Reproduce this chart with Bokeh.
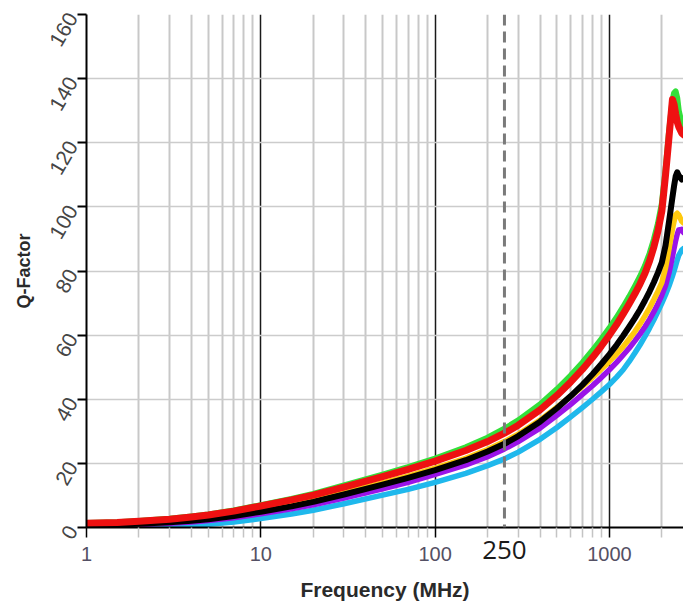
from math import pi
from bokeh.plotting import figure
from bokeh.models import Range1d, FixedTicker, Span, Grid, LogAxis
from bokeh.embed import file_html
from bokeh.resources import INLINE

# ---------------- data ----------------
freq = [1, 1.5, 2, 3, 4, 5, 7, 10, 15, 20, 30, 50, 70, 100, 150, 200, 250, 300,
        400, 500, 600, 700, 800, 900, 1000, 1100, 1200, 1300, 1400, 1500, 1600,
        1700, 1800, 1900, 2000, 2100, 2200, 2300, 2350, 2400, 2450, 2500, 2600, 2662]

q_green = [1.4, 1.65, 2.05, 2.75, 3.45, 4.1, 5.3, 6.95, 8.9, 10.5, 13.1, 16.5, 18.8, 21.5,
           25.0, 28.0, 30.8, 33.4, 38.4, 43.1, 47.4, 51.4, 55.2, 58.8, 62.2, 65.5,
           68.8, 72.0, 75.2, 78.3, 81.6, 85.4, 89.8, 94.8, 101.0, 111.5, 123.5,
           133.0, 135.5, 136.0, 134.0, 130.0, 126.0, 125.0]
q_red = [1.3, 1.55, 1.95, 2.6, 3.3, 3.9, 5.1, 6.7, 8.6, 10.1, 12.6, 15.9, 18.1, 20.7,
         24.0, 26.8, 29.4, 31.9, 36.7, 41.2, 45.4, 49.3, 53.0, 56.6, 60.0, 63.3,
         66.6, 69.8, 72.9, 76.0, 79.3, 83.1, 87.5, 92.5, 98.7, 110.0, 122.0,
         133.5, 132.0, 129.0, 126.5, 125.0, 123.0, 122.5]
q_black = [0.8, 0.95, 1.15, 1.6, 2.1, 2.6, 3.6, 4.9, 6.6, 8.0, 10.3, 13.4, 15.5, 17.9,
           21.0, 23.7, 26.1, 28.5, 33.0, 37.2, 41.0, 44.5, 47.8, 51.0, 54.0, 56.9,
           59.8, 62.6, 65.3, 68.0, 70.8, 73.6, 76.5, 79.5, 82.7, 88.0, 95.5, 103.0,
           106.5, 109.5, 110.8, 109.8, 108.5, 109.0]
q_yellow = [0.9, 1.05, 1.25, 1.75, 2.3, 2.85, 3.9, 5.3, 7.05, 8.45, 10.8, 13.9, 16.05, 18.5,
            21.6, 24.35, 26.8, 29.1, 33.5, 37.5, 41.0, 44.0, 46.8, 49.4, 51.8, 54.1,
            56.4, 58.8, 61.1, 63.5, 66.0, 68.5, 71.1, 73.7, 76.4, 81.0, 87.0, 93.0,
            95.5, 97.5, 98.0, 97.5, 95.5, 95.0]
q_purple = [0.6, 0.7, 0.9, 1.3, 1.75, 2.2, 3.05, 4.3, 5.85, 7.1, 9.2, 12.1, 14.1, 16.6,
            19.5, 22.1, 24.5, 26.8, 31.0, 35.0, 38.4, 41.5, 44.2, 46.8, 49.2, 51.5,
            53.8, 56.0, 58.2, 60.4, 62.6, 64.9, 67.3, 69.8, 72.5, 75.5, 79.5, 84.5,
            87.0, 89.5, 91.5, 92.8, 93.0, 92.0]
q_cyan = [0.2, 0.2, 0.3, 0.45, 0.7, 1.0, 1.7, 2.8, 4.2, 5.4, 7.4, 10.1, 11.9, 14.1,
          16.9, 19.3, 21.4, 23.5, 27.5, 31.2, 34.5, 37.4, 40.0, 42.4, 44.6, 46.9,
          49.2, 51.8, 54.4, 57.0, 59.6, 62.2, 64.8, 67.4, 70.0, 72.6, 75.4, 78.4,
          80.0, 81.7, 83.4, 84.9, 86.5, 87.0]

x_major_ticks = [1, 10, 100, 1000]
x_major_labels = ["1", "10", "100", "1000"]
x_minor_ticks = [2, 3, 4, 5, 6, 7, 8, 9, 20, 30, 40, 50, 60, 70, 80, 90,
                 200, 300, 400, 500, 600, 700, 800, 900, 2000]
y_ticks = [0, 20, 40, 60, 80, 100, 120, 140, 160]
marker_freq = 250
marker_label = "250"
x_title = "Frequency (MHz)"
y_title = "Q-Factor"

# ---------------- figure ----------------
p = figure(width=683, height=612, x_axis_type="log",
           x_range=Range1d(1, 2662), y_range=Range1d(0, 160),
           output_backend="svg", toolbar_location=None,
           min_border_left=86, min_border_right=0,
           min_border_top=14, min_border_bottom=85)
p.outline_line_color = None
p.background_fill_color = "white"
p.border_fill_color = "white"

# x axis
xa = p.xaxis[0]
xa.ticker = FixedTicker(ticks=x_major_ticks, minor_ticks=x_minor_ticks)
xa.major_label_overrides = dict(zip(x_major_ticks, x_major_labels))
xa.axis_line_color = "black"
xa.axis_line_width = 2
xa.major_tick_line_color = "black"
xa.major_tick_line_width = 1.5
xa.major_tick_out = 10
xa.major_tick_in = 0
xa.minor_tick_line_color = "#c4c4c4"
xa.minor_tick_line_width = 1.5
xa.minor_tick_out = 10
xa.minor_tick_in = 0
xa.major_label_text_font = "Liberation Sans"
xa.major_label_text_font_size = "20px"
xa.major_label_text_color = "#545064"
xa.major_label_standoff = 9
xa.axis_label = x_title
xa.axis_label_text_font = "Liberation Sans"
xa.axis_label_text_font_style = "bold"
xa.axis_label_text_font_size = "21px"
xa.axis_label_text_color = "#2a2a2a"
xa.axis_label_standoff = 14

# second bottom axis only carrying the "250" marker label
xa250 = LogAxis(ticker=FixedTicker(ticks=[marker_freq]),
                major_label_overrides={marker_freq: marker_label})
xa250.axis_line_color = None
xa250.major_tick_line_color = None
xa250.minor_tick_line_color = None
xa250.major_tick_out = 0
xa250.major_tick_in = 0
xa250.minor_tick_out = 0
xa250.minor_tick_in = 0
xa250.major_label_text_font = "Open Sans"
xa250.major_label_text_font_size = "26px"
xa250.major_label_text_color = "#1a1a1a"
xa250.major_label_standoff = -63
p.add_layout(xa250, "below")

# y axis
ya = p.yaxis[0]
ya.ticker = FixedTicker(ticks=y_ticks)
ya.axis_line_color = "black"
ya.axis_line_width = 2
ya.major_tick_line_color = "black"
ya.major_tick_line_width = 2
ya.major_tick_out = 9
ya.major_tick_in = 0
ya.minor_tick_line_color = None
ya.major_label_text_font = "Liberation Sans"
ya.major_label_text_font_size = "21px"
ya.major_label_text_color = "#454545"
ya.major_label_orientation = pi / 3
ya.major_label_standoff = 5
ya.axis_label = y_title
ya.axis_label_text_font = "Liberation Sans"
ya.axis_label_text_font_style = "bold"
ya.axis_label_text_font_size = "18px"
ya.axis_label_text_color = "#2a2a2a"
ya.axis_label_standoff = 6

# grids
p.xgrid.grid_line_color = "#1a1a1a"
p.xgrid.grid_line_width = 1.5
p.xgrid.minor_grid_line_color = "#c8c8c8"
p.xgrid.minor_grid_line_width = 2
p.ygrid.grid_line_color = "#cccccc"
p.ygrid.grid_line_width = 1.5
top_line = Grid(dimension=1, ticker=FixedTicker(ticks=[160]),
                grid_line_color="black", grid_line_width=3)
p.add_layout(top_line)

# dashed marker line
p.add_layout(Span(location=marker_freq, dimension="height", line_color="#7a7a7a",
                  line_width=3, line_dash="11 6"))

# curves
series = [(q_cyan, "#1fb8ec", 5.5), (q_purple, "#9a14e8", 5.5), (q_yellow, "#ffc90e", 5.5),
          (q_black, "#000000", 6), (q_green, "#33e03a", 6), (q_red, "#ee1111", 7)]
for vals, col, w in series:
    p.line(freq, vals, line_color=col, line_width=w, line_join="round", line_cap="round")

open("out.html", "w").write(file_html(p, INLINE))
